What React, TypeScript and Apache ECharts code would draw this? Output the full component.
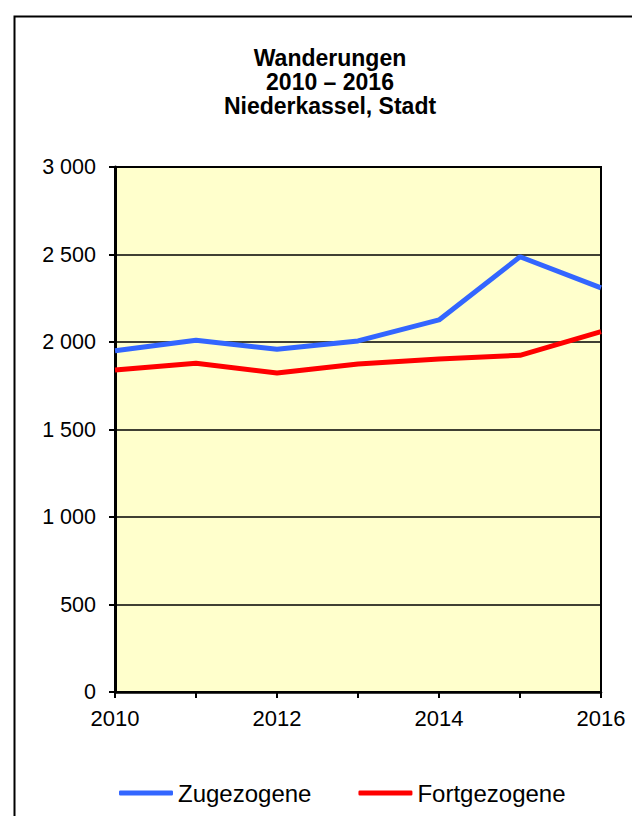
import React, { useEffect, useRef } from "react";
import * as echarts from "echarts";

const years = ["2010", "2011", "2012", "2013", "2014", "2015", "2016"];
const zugezogene = [1950, 2010, 1958, 2006, 2126, 2487, 2309];
const fortgezogene = [1840, 1878, 1823, 1874, 1903, 1924, 2059];
const titleLines = ["Wanderungen", "2010 – 2016", "Niederkassel, Stadt"];
const seriesNames = ["Zugezogene", "Fortgezogene"];

const FONT = "'Liberation Sans', Arial, sans-serif";

export default function App() {
  const ref = useRef<HTMLDivElement>(null);
  useEffect(() => {
    if (!ref.current) return;
    const chart = echarts.init(ref.current, undefined, { renderer: "svg" });
    chart.setOption({
      animation: false,
      backgroundColor: "#ffffff",
      textStyle: { fontFamily: FONT, color: "#000" },
      title: {
        text: titleLines.join("\n"),
        left: 330,
        top: 46,
        padding: 0,
        textAlign: "center",
        textStyle: {
          fontFamily: FONT,
          fontSize: 23,
          fontWeight: "bold",
          lineHeight: 24,
          color: "#000",
        },
      },
      graphic: [
        {
          type: "rect",
          left: 12,
          top: 14,
          shape: { width: 640, height: 820 },
          style: { fill: "none", stroke: "#000", lineWidth: 2 },
          silent: true,
        },
      ],
      legend: {
        left: 119,
        top: 781,
        padding: 0,
        itemWidth: 54,
        itemHeight: 5,
        itemGap: 47,
        icon: "roundRect",
        data: seriesNames,
        textStyle: { fontFamily: FONT, fontSize: 24, color: "#000" },
      },
      grid: {
        left: 115,
        top: 167,
        width: 486,
        height: 525,
        show: true,
        backgroundColor: "#FFFFCC",
        borderColor: "#000",
        borderWidth: 2,
        containLabel: false,
      },
      xAxis: {
        type: "category",
        data: years,
        boundaryGap: false,
        axisLine: { show: true, lineStyle: { color: "#000", width: 2.5 } },
        axisTick: {
          show: true,
          interval: 0,
          length: 6,
          lineStyle: { color: "#000", width: 2 },
        },
        axisLabel: {
          interval: 1,
          margin: 15,
          fontFamily: FONT,
          fontSize: 22,
          color: "#000",
        },
        splitLine: { show: false },
      },
      yAxis: {
        type: "value",
        min: 0,
        max: 3000,
        interval: 500,
        axisLine: { show: true, lineStyle: { color: "#000", width: 3 } },
        axisTick: { show: true, length: 6, lineStyle: { color: "#000", width: 2 } },
        axisLabel: {
          margin: 19,
          fontFamily: FONT,
          fontSize: 21.5,
          color: "#000",
          formatter: (v: number) =>
            String(v).replace(/\B(?=(\d{3})+(?!\d))/g, " "),
        },
        splitLine: { show: true, lineStyle: { color: "#000", width: 1.5 } },
      },
      series: [
        {
          name: seriesNames[0],
          type: "line",
          data: zugezogene,
          symbol: "none",
          lineStyle: { color: "#3366FF", width: 5 },
          itemStyle: { color: "#3366FF" },
        },
        {
          name: seriesNames[1],
          type: "line",
          data: fortgezogene,
          symbol: "none",
          lineStyle: { color: "#FF0000", width: 5 },
          itemStyle: { color: "#FF0000" },
        },
      ],
    });
    return () => chart.dispose();
  }, []);
  return (
    <div
      ref={ref}
      style={{ position: "fixed", left: 0, top: 0, width: 632, height: 816 }}
    />
  );
}
